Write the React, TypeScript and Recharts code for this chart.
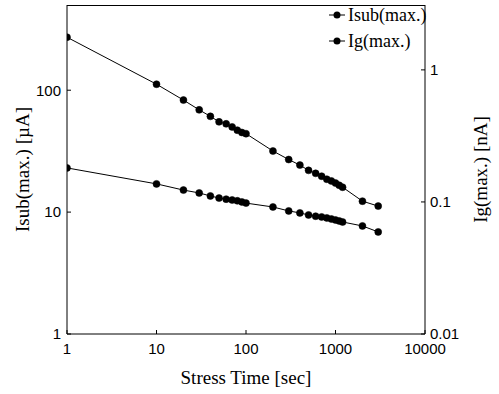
import { LineChart, Line, XAxis, YAxis, Legend, Label } from "recharts";

const times = [1, 10, 20, 30, 40, 50, 60, 70, 80, 90, 100, 200, 300, 400, 500, 600, 700, 800, 900, 1000, 1100, 1200, 2000, 3000];
const isub = [272, 112, 83, 69, 61, 55, 53, 50, 47, 45, 44, 31.7, 27, 24.3, 22, 20.8, 19.7, 18.6, 18, 17.3, 16.6, 16, 12.3, 11.2];
const ig = [0.181, 0.137, 0.123, 0.117, 0.111, 0.107, 0.105, 0.1035, 0.102, 0.1, 0.098, 0.0916, 0.0855, 0.0826, 0.0797, 0.078, 0.077, 0.0757, 0.0743, 0.073, 0.0718, 0.0705, 0.0658, 0.0593];

const seriesNames = ["Isub(max.)", "Ig(max.)"];
const xTicks = [1, 10, 100, 1000, 10000];
const leftTicks = [1, 10, 100];
const rightTicks = [0.01, 0.1, 1];

const data = times.map((t, i) => ({ t, isub: isub[i], ig: ig[i] }));

const W = 499;
const H = 394;
const margin = { top: 5, right: 10, bottom: 20, left: 10 };
const leftAxisW = 57;
const rightAxisW = 64;

const tickStyle = { fontFamily: "'Liberation Sans', Arial, sans-serif", fontSize: 15, fill: "#000" };
const titleFont = "'Liberation Serif', 'Times New Roman', serif";
const titleStyle = { fontFamily: titleFont, fontSize: 19, fill: "#000" };

function renderLegend() {
    return (
        <div style={{ fontFamily: titleFont, fontSize: 18, color: "#000" }}>
            {seriesNames.map((name) => (
                <div key={name} style={{ display: "flex", alignItems: "center", height: 26 }}>
                    <svg width={16} height={10} style={{ marginRight: 3 }}>
                        <line x1={0} y1={5} x2={16} y2={5} stroke="#000" strokeWidth={1} />
                        <circle cx={8} cy={5} r={3.5} fill="#000" />
                    </svg>
                    <span>{name}</span>
                </div>
            ))}
        </div>
    );
}

export default function App() {
    return (
        <div style={{ position: "absolute", left: 0, top: 0, width: W, height: H, background: "#fff" }}>
            <LineChart width={W} height={H} data={data} margin={margin}>
                <XAxis
                    dataKey="t"
                    type="number"
                    scale="log"
                    domain={[1, 10000]}
                    ticks={xTicks}
                    allowDataOverflow
                    height={40}
                    stroke="#000"
                    tickSize={-4}
                    tickMargin={13}
                    tick={tickStyle}
                    interval={0}
                >
                    <Label value="Stress Time [sec]" position="center" dy={23} style={titleStyle} />
                </XAxis>
                <YAxis
                    yAxisId="left"
                    type="number"
                    scale="log"
                    domain={[1, 500]}
                    ticks={leftTicks}
                    allowDataOverflow
                    width={leftAxisW}
                    stroke="#000"
                    tickSize={-4}
                    tickMargin={10}
                    tick={tickStyle}
                    interval={0}
                >
                    <Label value="Isub(max.) [µA]" angle={-90} position="center" dx={-16} style={titleStyle} />
                </YAxis>
                <YAxis
                    yAxisId="right"
                    orientation="right"
                    type="number"
                    scale="log"
                    domain={[0.01, 3.1]}
                    ticks={rightTicks}
                    allowDataOverflow
                    width={rightAxisW}
                    stroke="#000"
                    tickSize={-4}
                    tickMargin={9}
                    tick={tickStyle}
                    interval={0}
                >
                    <Label value="Ig(max.) [nA]" angle={-90} position="center" dx={23} style={titleStyle} />
                </YAxis>
                <Legend
                    layout="vertical"
                    align="center"
                    verticalAlign="middle"
                    content={renderLegend}
                    wrapperStyle={{ top: 2, left: 329, width: 120 }}
                />
                <Line
                    yAxisId="left"
                    dataKey="isub"
                    name={seriesNames[0]}
                    stroke="#000"
                    strokeWidth={1}
                    dot={{ r: 3.5, fill: "#000", stroke: "#000", strokeWidth: 0.5 }}
                    isAnimationActive={false}
                />
                <Line
                    yAxisId="right"
                    dataKey="ig"
                    name={seriesNames[1]}
                    stroke="#000"
                    strokeWidth={1}
                    dot={{ r: 3.5, fill: "#000", stroke: "#000", strokeWidth: 0.5 }}
                    isAnimationActive={false}
                />
            </LineChart>
            {/* top edge of the plot frame */}
            <div
                style={{
                    position: "absolute",
                    top: margin.top,
                    left: margin.left + leftAxisW,
                    width: W - margin.left - margin.right - leftAxisW - rightAxisW,
                    borderTop: "1px solid #000",
                    pointerEvents: "none",
                }}
            />
        </div>
    );
}
